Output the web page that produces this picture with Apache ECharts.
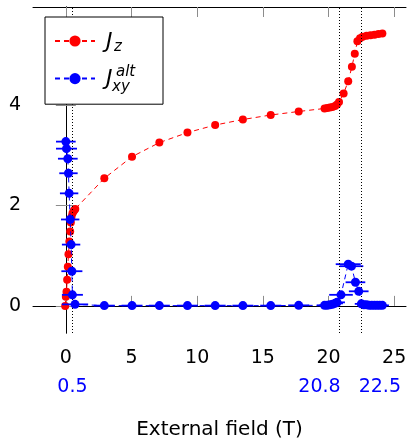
<!DOCTYPE html>
<html>
<head>
<meta charset="utf-8">
<script src="https://cdn.jsdelivr.net/npm/echarts@6/dist/echarts.min.js"></script>
<style>
  html, body { margin: 0; padding: 0; background: #fff; }
  #chart { width: 411px; height: 441px; }
</style>
</head>
<body>
<div id="chart"></div>
<script>
// Longitudinal magnetisation J_z versus applied field (T)
const jzField = [-0.05, 0.0, 0.05, 0.1, 0.15, 0.2, 0.27, 0.33, 0.38, 0.43, 0.5, 0.58, 0.65, 0.72,
  2.93, 5.04, 7.12, 9.26, 11.37, 13.48, 15.6, 17.73,
  19.7, 19.9, 20.1, 20.3, 20.5, 20.65, 20.8, 21.15, 21.5, 21.78, 22.0,
  22.2, 22.4, 22.6, 22.9, 23.2, 23.5, 23.8, 24.1];
const jzValue = [0.0, 0.18, 0.28, 0.52, 0.78, 1.03, 1.28, 1.48, 1.66, 1.77, 1.84, 1.88, 1.91, 1.93,
  2.54, 2.97, 3.25, 3.45, 3.60, 3.71, 3.80, 3.87,
  3.93, 3.94, 3.95, 3.96, 3.98, 4.01, 4.06, 4.23, 4.47, 4.76, 5.02,
  5.27, 5.33, 5.36, 5.38, 5.39, 5.40, 5.41, 5.42];

// Staggered in-plane order parameter J_xy^alt with its field uncertainty
const jxyField = [0.0, 0.05, 0.15, 0.2, 0.25, 0.33, 0.4, 0.46, 0.5, 0.7,
  2.93, 5.04, 7.12, 9.26, 11.37, 13.48, 15.6, 17.73,
  19.7, 19.9, 20.1, 20.3, 20.5, 20.65, 20.95, 21.5, 21.75, 22.05, 22.3,
  22.5, 22.7, 22.9, 23.1, 23.3, 23.5, 23.7, 23.9, 24.1];
const jxyValue = [3.27, 3.13, 2.93, 2.64, 2.24, 1.72, 1.22, 0.69, 0.22, 0.03,
  0.005, 0.005, 0.005, 0.005, 0.005, 0.005, 0.005, 0.01,
  0.01, 0.01, 0.02, 0.03, 0.05, 0.07, 0.22, 0.83, 0.79, 0.47, 0.29,
  0.04, 0.02, 0.02, 0.01, 0.01, 0.01, 0.01, 0.01, 0.01];
const jxyErr = [0.75, 0.8, 0.75, 0.7, 0.7, 0.7, 0.7, 0.8, 0.8, 1.0,
  0.8, 0.8, 0.8, 0.8, 0.8, 0.8, 0.8, 0.8,
  0.6, 0.6, 0.6, 0.6, 0.6, 0.6, 0.9, 0.95, 0.9, 0.75, 0.75,
  0.5, 0.5, 0.5, 0.5, 0.5, 0.5, 0.5, 0.5, 0.5];

// Axis ticks and the marked transition fields
const xTicks = [0, 5, 10, 15, 20, 25];
const yTicks = [0, 2, 4];
const transitionFields = [0.5, 20.8, 22.5];
const transitionLabels = ['0.5', '20.8', '22.5'];

const X_MIN = -2.5, X_MAX = 25.9, Y_MIN = -0.54, Y_MAX = 5.95;
const RED = '#ff0000', BLUE = '#0000ff';
const FONT = 'DejaVu Sans';

const jzData = jzField.map((x, i) => [x, jzValue[i]]);
const jxyData = jxyField.map((x, i) => [x, jxyValue[i]]);
const jxyErrData = jxyField.map((x, i) => [x, jxyValue[i], jxyErr[i]]);

function errorBars(color) {
  return function (params, api) {
    const x = api.value(0), y = api.value(1), e = api.value(2);
    const a = api.coord([x - e, y]);
    const b = api.coord([x + e, y]);
    return {
      type: 'line',
      shape: { x1: a[0], y1: a[1], x2: b[0], y2: b[1] },
      style: { stroke: color, lineWidth: 1.8 }
    };
  };
}

const tickStyle = { show: true, inside: true, length: 10, lineStyle: { color: '#8c8c8c', width: 1 } };
const axisLineStyle = { show: true, lineStyle: { color: '#000', width: 1 } };

const chart = echarts.init(document.getElementById('chart'), null, { renderer: 'canvas' });

chart.setOption({
  animation: false,
  backgroundColor: '#fff',
  grid: { left: 33, right: 5, top: 7, bottom: 108, containLabel: false, outerBoundsMode: 'none' },
  xAxis: [
    {
      type: 'value', position: 'bottom', min: X_MIN, max: X_MAX,
      axisLine: axisLineStyle,
      axisTick: Object.assign({}, tickStyle, { customValues: xTicks }),
      axisLabel: { customValues: xTicks, color: '#000', fontFamily: FONT, fontSize: 19, margin: 16 },
      splitLine: { show: false }
    },
    {
      type: 'value', position: 'bottom', offset: 29, min: X_MIN, max: X_MAX,
      axisLine: { show: false },
      axisTick: { show: false },
      axisLabel: {
        customValues: transitionFields, fontFamily: FONT, fontSize: 19, margin: 16, color: BLUE,
        formatter: function (v) {
          const i = transitionFields.indexOf(v);
          const s = i >= 0 ? transitionLabels[i] : '';
          if (v === 20.8) return '{l|' + s + '}';
          if (v === 22.5) return '{r|' + s + '}';
          return s;
        },
        rich: {
          l: { color: BLUE, fontFamily: FONT, fontSize: 19, padding: [0, 39, 0, 0] },
          r: { color: BLUE, fontFamily: FONT, fontSize: 19, padding: [0, 0, 0, 37] }
        }
      },
      splitLine: { show: false },
      name: 'External field (T)', nameLocation: 'middle', nameGap: 58,
      nameTextStyle: { color: '#000', fontFamily: FONT, fontSize: 20 }
    },
    {
      type: 'value', position: 'top', min: X_MIN, max: X_MAX,
      axisLine: axisLineStyle,
      axisTick: Object.assign({}, tickStyle, { customValues: xTicks }),
      axisLabel: { show: false },
      splitLine: { show: false }
    }
  ],
  yAxis: [
    {
      type: 'value', position: 'left', min: Y_MIN, max: Y_MAX,
      axisLine: axisLineStyle,
      axisTick: Object.assign({}, tickStyle, { customValues: yTicks }),
      axisLabel: { customValues: yTicks, color: '#000', fontFamily: FONT, fontSize: 19, margin: 12 },
      splitLine: { show: false }
    },
    {
      type: 'value', position: 'right', min: Y_MIN, max: Y_MAX,
      axisLine: axisLineStyle,
      axisTick: Object.assign({}, tickStyle, { customValues: yTicks }),
      axisLabel: { show: false },
      splitLine: { show: false }
    }
  ],
  legend: {
    left: 45, top: 17, orient: 'vertical', z: 10,
    padding: [17, 67, 20, 9], itemGap: 25, itemWidth: 40, itemHeight: 14,
    backgroundColor: '#fff', borderColor: '#000', borderWidth: 1,
    formatter: function () { return ''; },
    data: ['Jz', 'Jxy']
  },
  series: [
    {
      name: 'Jz', type: 'line', data: jzData, xAxisIndex: 0, yAxisIndex: 0,
      symbol: 'circle', symbolSize: 8, showSymbol: true,
      itemStyle: { color: RED },
      lineStyle: { color: RED, width: 1, type: [5, 4] },
      z: 3,
      markLine: {
        silent: true, symbol: 'none', label: { show: false },
        lineStyle: { color: '#000', width: 1, type: [1, 2] },
        data: transitionFields.map(v => ({ xAxis: v }))
      }
    },
    {
      name: 'JxyErr', type: 'custom', data: jxyErrData, xAxisIndex: 0, yAxisIndex: 0,
      renderItem: errorBars(BLUE), encode: { x: 0, y: 1 }, z: 4
    },
    {
      name: 'Jxy', type: 'line', data: jxyData, xAxisIndex: 0, yAxisIndex: 0,
      symbol: 'circle', symbolSize: 9, showSymbol: true,
      itemStyle: { color: BLUE },
      lineStyle: { color: BLUE, width: 1, type: [5, 4] },
      z: 5
    }
  ],
  graphic: {
    elements: [
      { type: 'text', left: 106, top: 31, z: 200, zlevel: 1,
        style: { text: 'J', font: 'italic 22px "DejaVu Sans"', fill: '#000' } },
      { type: 'text', left: 114, top: 40, z: 200, zlevel: 1,
        style: { text: 'z', font: 'italic 15px "DejaVu Sans"', fill: '#000' } },
      { type: 'text', left: 106, top: 68, z: 200, zlevel: 1,
        style: { text: 'J', font: 'italic 22px "DejaVu Sans"', fill: '#000' } },
      { type: 'text', left: 116, top: 65, z: 200, zlevel: 1,
        style: { text: 'alt', font: 'italic 15px "DejaVu Sans"', fill: '#000' } },
      { type: 'text', left: 112, top: 80, z: 200, zlevel: 1,
        style: { text: 'xy', font: 'italic 15px "DejaVu Sans"', fill: '#000' } }
    ]
  }
});
</script>
</body>
</html>
